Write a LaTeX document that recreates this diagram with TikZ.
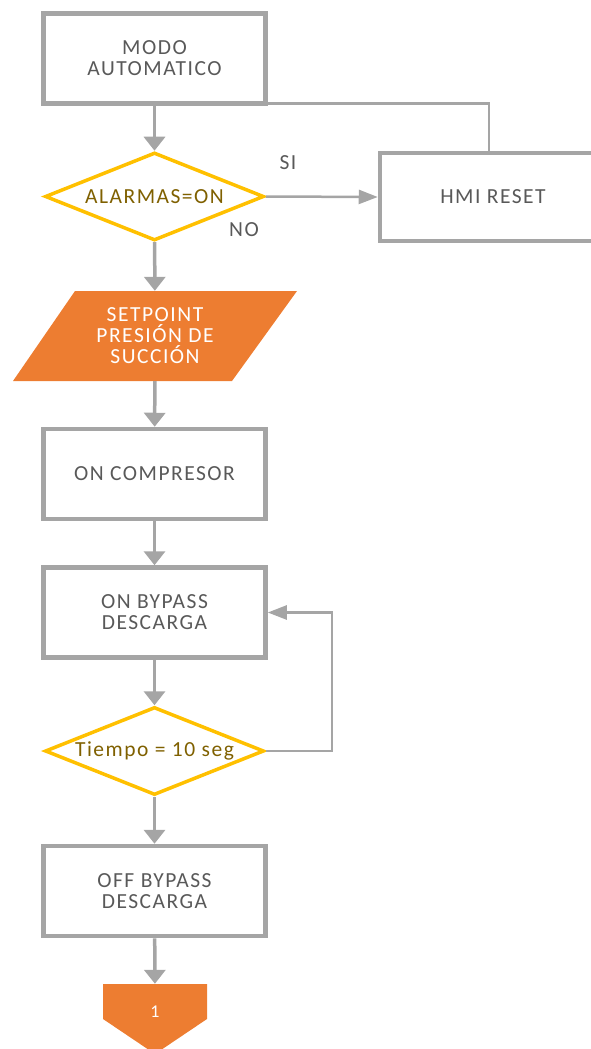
\documentclass[tikz,border=0pt]{standalone}
\usepackage{fontspec}
\setmainfont{Carlito}[LetterSpace=7]
\usetikzlibrary{shapes.geometric,arrows.meta}
\definecolor{lgray}{HTML}{A5A5A5}
\definecolor{tgray}{HTML}{595959}
\definecolor{gold}{HTML}{FFC000}
\definecolor{dgold}{HTML}{7F6000}
\definecolor{orng}{HTML}{ED7D31}
\begin{document}
\begin{tikzpicture}[x=1pt,y=-1pt,
  txt/.style={font=\fontsize{21.5}{21}\selectfont, align=center},
  proc/.style={txt, draw=lgray, line width=4.5pt, minimum width=222pt, minimum height=90pt, inner sep=0pt, text=tgray},
  dec/.style={txt, diamond, draw=gold, line width=3.5pt, minimum width=219pt, minimum height=88pt, aspect=2.5, inner sep=0pt, text=dgold},
  lbl/.style={txt, text=tgray},
  flow/.style={draw=lgray, line width=3.5pt, -{Triangle[width=21pt,length=14pt]}},
  link/.style={draw=lgray, line width=2.5pt},
  linkarr/.style={link, -{Triangle[width=14pt,length=19pt]}}
]
\useasboundingbox (0,0) rectangle (590,1049);
\node[proc] (m1) at (154.5,58.5) {MODO\\AUTOMATICO};
\node[dec] (d1) at (154.5,196.5) {ALARMAS=ON};
\node[proc, minimum width=226pt, minimum height=88pt] (hmi) at (493,197) {HMI RESET};
\node[lbl] (si) at (288,163) {SI};
\node[lbl] (no) at (244,230) {NO};
% parallelogram
\fill[orng] (75,291) -- (297,291) -- (232,381) -- (13,381) -- cycle;
\node[txt, text=white, minimum height=90pt, inner sep=0pt] (sp) at (155,336) {SETPOINT\\PRESIÓN DE\\SUCCIÓN};
\node[proc] (c1) at (154.5,474) {ON COMPRESOR};
\node[proc] (b1) at (154.5,612.5) {ON BYPASS\\DESCARGA};
\node[dec] (d2) at (154.5,751) {Tiempo = 10 seg};
\node[proc] (b2) at (154.5,891) {OFF BYPASS\\DESCARGA};
% off-page connector
\fill[orng] (103,984) -- (207,984) -- (207,1019) -- (155,1054) -- (103,1019) -- cycle;
\node[txt, text=white, minimum height=35pt, inner sep=0pt] (op) at (155,1001.5) {};
\node[txt, text=white, font=\fontsize{18}{18}\selectfont] (one) at (155,1012) {1};
% connectors
\draw[flow] (m1) -- (d1);
\draw[flow] (d1) -- (sp);
\draw[flow] (sp) -- (c1);
\draw[flow] (c1) -- (b1);
\draw[flow] (b1) -- (d2);
\draw[flow] (d2) -- (b2);
\draw[flow] (b2) -- (op);
\draw[linkarr] (d1.east) -- (hmi.west);
\draw[link] ([xshift=-4pt]hmi.north) |- ([yshift=2.5pt]m1.south east);
\draw[linkarr] (d2.east) -- ++(66,0) |- (b1.east);
\end{tikzpicture}
\end{document}
